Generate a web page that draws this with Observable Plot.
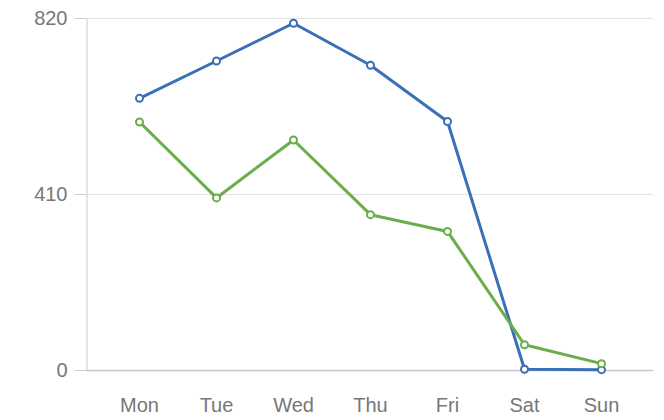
<!DOCTYPE html>
<html>
<head>
<meta charset="utf-8">
<script src="https://cdn.jsdelivr.net/npm/d3@7"></script>
<script src="https://cdn.jsdelivr.net/npm/@observablehq/plot@0.6"></script>
<style>
  html, body { margin: 0; padding: 0; background: #fff; }
  #chart svg { display: block; }
</style>
</head>
<body>
<div id="chart"></div>
<script>
const days = ["Mon", "Tue", "Wed", "Thu", "Fri", "Sat", "Sun"];
const seriesA = [634, 721, 809, 711, 580, 3, 2];
const seriesB = [579, 402, 537, 363, 324, 60, 16];
const yTicks = [0, 410, 820];

const colorA = "#3a70b5";
const colorB = "#6aae4c";

const dataA = days.map((d, i) => ({day: d, value: seriesA[i]}));
const dataB = days.map((d, i) => ({day: d, value: seriesB[i]}));

const chart = Plot.plot({
  width: 664,
  height: 420,
  marginLeft: 86,
  marginRight: 11,
  marginTop: 18,
  marginBottom: 50,
  style: {fontFamily: "'Liberation Sans', Arial, sans-serif", fontSize: "20px", color: "#777", background: "#fff"},
  x: {type: "point", domain: days, padding: 0.675, label: null},
  y: {domain: [0, 820], label: null},
  marks: [
    Plot.gridY(yTicks.filter(t => t > 0), {stroke: "#e3e3e3", strokeOpacity: 1, strokeWidth: 1}),
    Plot.axisY(yTicks, {tickSize: 11, tickPadding: 8, stroke: "#cccccc", fill: "#777", fontSize: 20, label: null}),
    Plot.ruleY([0], {stroke: "#c8c8c8", strokeWidth: 1.5}),
    Plot.ruleX([days[0]], {y1: 0, y2: 820, stroke: "#cccccc", dx: -52.5}),
    Plot.axisX({tickSize: 0, tickPadding: 27, fill: "#777", fontSize: 20, label: null}),
    Plot.line(dataA, {x: "day", y: "value", stroke: colorA, strokeWidth: 3}),
    Plot.line(dataB, {x: "day", y: "value", stroke: colorB, strokeWidth: 3}),
    Plot.dot(dataA, {x: "day", y: "value", r: 3.5, fill: "#fff", stroke: colorA, strokeWidth: 2}),
    Plot.dot(dataB, {x: "day", y: "value", r: 3.5, fill: "#fff", stroke: colorB, strokeWidth: 2})
  ]
});
document.getElementById("chart").appendChild(chart);
</script>
</body>
</html>
